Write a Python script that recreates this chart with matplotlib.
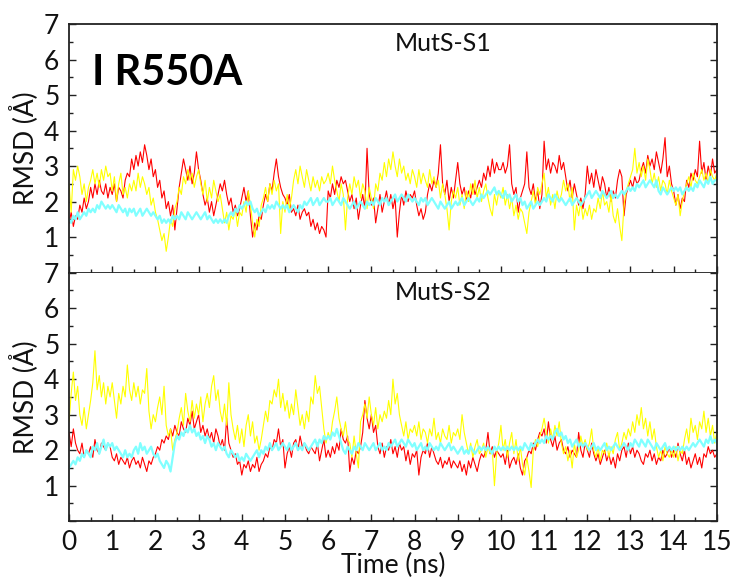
import numpy as np
import matplotlib
matplotlib.use("Agg")
import matplotlib.pyplot as plt
from matplotlib.ticker import MultipleLocator, FixedLocator

plt.rcParams['font.family'] = ['Lato', 'DejaVu Sans']

# time axis, one sample every 0.05 ns
time_ns = np.linspace(0, 15, 301)

# MutS-S1 (top panel)
s1_red = [
    1.4, 1.7, 1.3, 1.6, 1.5, 1.9, 1.7, 2.1, 1.8, 2.0, 2.4, 2.1, 2.5, 2.2, 2.6, 2.3, 2.2, 2.5, 2.1, 2.4,
    2.2, 2.5, 2.0, 2.4, 2.3, 2.1, 2.6, 2.8, 2.7, 3.2, 2.9, 3.3, 3.0, 3.4, 3.1, 3.6, 3.3, 2.9, 3.2, 2.7,
    2.9, 2.4, 2.6, 2.1, 2.3, 1.8, 2.0, 1.6, 1.9, 1.2, 1.8, 2.4, 2.8, 3.2, 2.9, 2.6, 3.0, 2.5, 2.8, 3.4,
    2.9, 2.6, 2.2, 1.9, 2.1, 1.7, 2.0, 1.6, 1.9, 2.2, 2.5, 2.3, 2.6, 2.2, 1.9, 2.1, 1.7, 1.9, 1.6, 1.8,
    2.1, 2.4, 2.0, 2.3, 1.6, 1.0, 1.4, 1.2, 1.6, 1.5, 1.9, 2.2, 2.0, 2.5, 2.3, 2.8, 3.2, 2.7, 2.4, 2.2,
    2.1, 1.9, 2.2, 1.7, 1.8, 1.6, 1.9, 1.5, 1.7, 1.8, 1.6, 1.7, 1.3, 1.5, 1.2, 1.4, 1.1, 1.3, 1.2, 1.0,
    2.3, 2.1, 2.5, 2.2, 2.6, 2.4, 2.7, 2.5, 2.6, 2.3, 2.0, 2.2, 1.8, 2.1, 1.5, 1.9, 2.2, 1.8, 3.5, 2.2,
    1.9, 2.1, 1.4, 1.8, 2.2, 1.7, 2.0, 2.3, 1.9, 2.2, 1.8, 2.1, 1.0, 1.7, 2.2, 1.9, 2.3, 2.0, 2.2, 2.1,
    2.3, 1.9, 1.6, 1.8, 1.5, 1.7, 2.2, 2.5, 2.3, 2.6, 2.4, 2.8, 3.6, 2.5, 2.2, 2.6, 2.0, 2.4, 2.1, 2.6,
    3.1, 2.5, 2.2, 2.4, 2.0, 2.3, 2.1, 2.5, 2.2, 2.4, 2.6, 2.4, 2.8, 2.6, 3.0, 2.7, 3.2, 2.8, 3.1, 2.9,
    2.9, 3.1, 2.8, 3.0, 3.6, 2.5, 2.2, 2.4, 1.7, 2.1, 2.3, 2.5, 3.4, 2.4, 2.2, 2.5, 2.0, 2.3, 1.8, 2.2,
    3.7, 2.9, 3.2, 2.8, 3.1, 3.0, 2.8, 3.3, 2.9, 3.1, 2.7, 2.3, 2.6, 2.1, 2.5, 2.2, 1.9, 2.1, 1.8, 2.2,
    3.0, 2.5, 2.8, 2.4, 2.9, 2.6, 2.3, 2.7, 2.5, 2.1, 2.4, 2.0, 2.3, 2.1, 2.6, 2.9, 2.7, 1.6, 2.2, 2.4,
    2.6, 2.4, 2.7, 2.5, 2.6, 2.9, 3.1, 2.8, 3.3, 3.0, 3.2, 2.9, 3.4, 3.1, 2.8, 3.2, 3.8, 2.7, 3.0, 2.5,
    2.3, 1.9, 2.2, 1.8, 2.1, 2.0, 2.6, 2.4, 2.8, 2.6, 2.9, 2.7, 3.7, 2.8, 3.1, 2.6, 3.0, 2.7, 3.2, 2.8,
    2.9]
s1_yellow = [
    2.5, 1.7, 2.9, 2.6, 3.0, 2.7, 2.2, 2.5, 2.0, 2.4, 2.6, 2.9, 2.5, 2.8, 2.4, 2.9, 2.6, 3.0, 2.7, 2.8,
    2.3, 2.7, 2.0, 2.5, 2.8, 2.2, 2.4, 2.1, 2.5, 2.3, 2.6, 2.3, 2.8, 2.4, 2.7, 2.5, 2.2, 2.4, 1.9, 2.1,
    1.7, 1.5, 1.2, 0.9, 1.1, 0.6, 1.0, 1.5, 1.3, 1.8, 2.0, 2.4, 2.2, 2.7, 2.5, 2.9, 2.6, 2.8, 2.4, 2.7,
    2.9, 2.5, 2.2, 2.6, 2.0, 2.4, 2.1, 2.6, 2.3, 2.0, 2.2, 1.8, 1.4, 1.7, 1.2, 1.6, 1.5, 1.8, 1.3, 1.7,
    1.6, 2.0, 1.7, 2.3, 1.9, 1.4, 1.0, 1.5, 1.3, 1.9, 2.1, 2.4, 2.0, 2.5, 2.2, 2.6, 2.3, 2.5, 1.1, 2.0,
    1.7, 2.2, 1.8, 2.1, 2.6, 2.9, 2.5, 3.0, 2.7, 2.4, 2.9, 2.6, 2.3, 2.7, 2.4, 2.6, 2.3, 2.7, 2.5, 2.6,
    2.8, 2.5, 3.0, 2.6, 2.3, 2.0, 2.5, 2.2, 1.2, 2.1, 2.5, 2.2, 2.7, 2.4, 2.6, 2.1, 2.5, 2.3, 1.8, 2.4,
    2.1, 1.8, 2.5, 2.3, 2.8, 2.6, 3.1, 2.7, 3.2, 2.9, 3.4, 3.0, 2.7, 3.2, 2.8, 3.0, 2.6, 2.8, 2.5, 2.9,
    2.7, 2.4, 2.9, 2.5, 2.8, 2.6, 2.4, 2.9, 2.5, 2.7, 2.4, 2.6, 2.1, 2.5, 2.2, 1.8, 1.2, 2.0, 2.3, 2.1,
    2.4, 1.9, 2.2, 1.8, 2.3, 2.0, 2.5, 2.2, 2.6, 2.1, 2.4, 2.0, 2.3, 2.5, 2.1, 1.8, 1.6, 2.2, 1.9, 2.3,
    2.1, 2.4, 1.9, 2.2, 1.8, 2.1, 1.6, 1.9, 1.5, 1.8, 1.7, 1.4, 1.1, 1.7, 2.0, 2.3, 1.9, 2.4, 2.2, 2.5,
    2.8, 2.1, 2.4, 1.9, 2.2, 1.8, 2.3, 2.0, 2.2, 2.6, 2.3, 2.5, 2.0, 2.4, 1.2, 1.9, 1.6, 2.0, 1.5, 1.8,
    1.6, 1.9, 1.5, 1.8, 1.7, 2.1, 1.8, 2.3, 1.9, 2.0, 1.7, 2.2, 1.6, 1.4, 1.8, 1.3, 0.9, 1.9, 2.3, 2.5,
    2.7, 2.9, 3.5, 2.8, 3.1, 2.7, 3.0, 2.6, 3.2, 2.9, 2.5, 2.8, 2.4, 2.7, 2.3, 2.6, 2.5, 2.2, 2.6, 2.3,
    2.1, 1.9, 2.2, 1.6, 2.0, 2.3, 2.5, 2.7, 2.4, 2.8, 2.6, 2.5, 2.7, 2.9, 2.6, 2.8, 2.5, 2.9, 2.7, 2.6,
    2.8]
s1_cyan = [
    1.5, 1.4, 1.6, 1.5, 1.7, 1.5, 1.6, 1.7, 1.6, 1.8, 1.7, 1.8, 1.7, 1.9, 1.8, 2.0, 1.9, 1.8, 1.9, 1.8,
    1.9, 1.8, 1.7, 1.9, 1.8, 1.7, 1.8, 1.6, 1.8, 1.7, 1.8, 1.6, 1.7, 1.8, 1.6, 1.7, 1.8, 1.7, 1.6, 1.7,
    1.6, 1.5, 1.6, 1.4, 1.5, 1.4, 1.5, 1.4, 1.6, 1.5, 1.6, 1.5, 1.7, 1.6, 1.5, 1.7, 1.6, 1.5, 1.6, 1.7,
    1.6, 1.5, 1.6, 1.7, 1.5, 1.6, 1.5, 1.4, 1.5, 1.4, 1.5, 1.4, 1.5, 1.4, 1.6, 1.7, 1.6, 1.8, 1.7, 1.9,
    1.8, 1.9, 2.0, 1.9, 2.0, 1.8, 1.7, 1.8, 1.6, 1.7, 1.8, 1.7, 1.9, 1.8, 1.9, 1.8, 2.0, 1.9, 1.8, 1.9,
    1.8, 1.9, 1.7, 1.8, 1.9, 1.8, 1.7, 1.9, 1.8, 2.0, 1.9, 2.0, 2.1, 1.9, 2.0, 2.1, 1.9, 2.0, 2.1, 2.0,
    2.0, 2.1, 1.9, 2.0, 2.1, 2.0, 1.9, 2.1, 2.0, 1.9, 1.8, 1.9, 2.0, 1.8, 1.9, 2.0, 1.9, 1.8, 2.0, 1.9,
    2.0, 1.9, 2.1, 2.0, 1.9, 2.1, 2.0, 2.1, 1.9, 2.0, 2.1, 2.2, 2.0, 2.1, 2.2, 2.1, 2.0, 2.2, 2.1, 2.0,
    2.1, 2.0, 1.9, 2.1, 2.0, 2.1, 1.9, 2.0, 2.1, 2.0, 1.9, 1.8, 2.0, 1.9, 1.8, 1.9, 2.0, 1.8, 1.9, 2.0,
    1.9, 2.0, 2.1, 1.9, 2.0, 2.1, 2.0, 1.9, 2.0, 2.1, 2.0, 2.2, 2.1, 2.2, 2.3, 2.2, 2.3, 2.4, 2.2, 2.3,
    2.2, 2.1, 2.3, 2.1, 2.2, 2.0, 2.1, 2.2, 2.0, 2.1, 1.9, 2.0, 1.8, 1.9, 2.0, 1.8, 1.9, 2.0, 1.9, 2.0,
    2.1, 2.0, 2.2, 2.1, 2.0, 2.2, 2.1, 2.0, 2.1, 2.0, 1.9, 2.0, 2.1, 1.9, 2.0, 2.1, 2.0, 1.9, 2.0, 2.1,
    2.2, 2.3, 2.1, 2.2, 2.3, 2.2, 2.1, 2.3, 2.2, 2.1, 2.2, 2.3, 2.1, 2.2, 2.1, 2.2, 2.3, 2.2, 2.3, 2.4,
    2.3, 2.4, 2.3, 2.5, 2.4, 2.5, 2.6, 2.4, 2.5, 2.6, 2.5, 2.4, 2.6, 2.3, 2.2, 2.4, 2.3, 2.2, 2.3, 2.4,
    2.3, 2.4, 2.3, 2.4, 2.2, 2.3, 2.4, 2.3, 2.4, 2.3, 2.5, 2.4, 2.6, 2.5, 2.4, 2.6, 2.5, 2.7, 2.5, 2.6,
    2.6]

# MutS-S2 (bottom panel)
s2_red = [
    2.5, 2.1, 2.6, 2.2, 2.0, 1.9, 2.2, 1.8, 2.0, 1.9, 2.1, 1.8, 2.3, 2.0, 1.9, 2.2, 2.1, 2.0, 2.2, 2.1,
    1.8, 1.7, 1.9, 1.6, 1.8, 1.7, 1.6, 1.8, 1.5, 1.7, 1.8, 1.6, 1.7, 1.5, 1.8, 1.6, 1.4, 1.7, 1.6, 1.8,
    1.9, 2.1, 2.0, 2.3, 2.2, 2.4, 2.3, 2.6, 2.4, 2.7, 2.5, 2.4, 2.8, 2.6, 2.5, 2.9, 2.7, 3.1, 2.6, 2.8,
    3.0, 2.5, 2.7, 2.4, 2.6, 2.3, 2.5, 2.2, 2.6, 2.4, 2.1, 2.3, 2.0, 2.9, 2.2, 2.0, 1.8, 1.9, 1.6, 1.7,
    1.3, 1.6, 1.5, 1.7, 1.4, 1.6, 1.5, 1.8, 1.4, 1.6, 1.7, 1.9, 1.8, 2.1, 2.0, 2.3, 2.2, 2.6, 2.1, 2.3,
    1.5, 1.9, 2.1, 1.8, 2.2, 2.3, 2.0, 2.4, 2.1, 2.2, 2.0, 1.9, 2.1, 2.0, 1.9, 2.2, 1.7, 2.0, 2.3, 1.8,
    2.0, 1.8, 2.1, 1.9, 2.2, 2.0, 2.6, 2.3, 2.2, 2.4, 1.4, 1.8, 1.6, 2.0, 1.9, 2.1, 2.5, 3.4, 2.9, 2.6,
    3.0, 2.5, 2.7, 2.1, 1.9, 2.2, 1.8, 2.1, 2.0, 2.3, 1.9, 2.1, 1.8, 2.2, 2.0, 2.1, 1.7, 2.0, 1.6, 1.9,
    1.8, 2.0, 1.3, 1.8, 2.0, 1.9, 2.2, 1.8, 2.1, 1.9, 1.7, 1.6, 1.8, 1.5, 1.7, 1.6, 1.8, 1.5, 1.7, 1.6,
    1.5, 1.7, 1.4, 1.6, 1.3, 1.7, 1.5, 1.8, 1.6, 1.4, 1.7, 1.9, 1.8, 2.0, 2.5, 1.9, 2.1, 1.8, 2.0, 1.9,
    1.8, 1.9, 1.6, 2.0, 1.5, 1.7, 1.8, 1.6, 1.9, 1.5, 1.3, 1.7, 1.8, 2.0, 1.9, 2.2, 2.0, 2.3, 2.5, 2.4,
    2.6, 2.2, 2.8, 2.3, 2.1, 2.4, 2.0, 2.2, 2.3, 2.0, 1.9, 2.1, 1.8, 2.0, 1.9, 1.8, 2.5, 2.0, 1.8, 2.2,
    2.0, 1.8, 2.2, 1.9, 1.7, 1.9, 1.6, 1.8, 2.0, 1.7, 1.9, 1.6, 1.8, 1.5, 1.9, 1.7, 2.0, 2.1, 1.8, 2.2,
    1.9, 2.1, 1.8, 2.0, 1.9, 1.7, 1.6, 1.9, 1.8, 2.0, 1.7, 1.9, 1.6, 1.8, 1.7, 2.0, 1.8, 1.9, 2.1, 1.8,
    2.0, 1.8, 2.2, 1.9, 1.7, 2.0, 1.6, 1.8, 1.5, 1.7, 1.9, 1.6, 1.8, 1.5, 1.9, 1.8, 2.1, 1.9, 2.0, 1.8,
    1.9]
s2_yellow = [
    2.8, 3.6, 4.2, 3.4, 3.8, 3.0, 2.7, 3.2, 2.6, 3.0, 3.4, 3.9, 4.8, 3.7, 4.1, 3.5, 3.9, 3.3, 3.8, 3.5,
    3.9, 3.4, 2.9, 3.6, 3.3, 3.8, 3.5, 4.4, 3.7, 3.4, 3.9, 3.5, 3.8, 3.3, 3.7, 3.6, 4.3, 3.1, 2.6, 3.0,
    2.8, 3.2, 3.5, 3.0, 3.8, 2.7, 2.4, 2.6, 2.0, 2.3, 2.5, 2.9, 3.2, 2.7, 3.6, 3.1, 2.8, 3.4, 2.9, 3.3,
    3.0, 3.5, 2.8, 3.3, 3.6, 3.2, 3.8, 4.1, 3.4, 3.7, 3.1, 2.8, 3.3, 2.7, 3.9, 3.0, 2.6, 2.3, 2.7, 2.2,
    2.6, 2.1, 2.7, 3.0, 2.4, 2.8, 2.2, 2.4, 2.0, 2.3, 2.7, 3.1, 2.8, 3.4, 3.3, 3.7, 3.5, 4.0, 3.2, 3.6,
    3.1, 3.4, 2.9, 3.3, 3.0, 3.7, 3.2, 2.7, 3.0, 2.6, 3.1, 2.8, 3.5, 3.3, 4.1, 3.6, 3.8, 3.2, 2.6, 2.2,
    2.5, 2.3, 2.8, 3.1, 3.5, 2.9, 2.6, 2.4, 2.8, 2.3, 2.2, 1.8, 2.4, 1.9, 1.5, 2.8, 3.0, 3.3, 2.9, 3.5,
    3.0, 2.7, 3.2, 2.6, 3.0, 2.8, 3.1, 2.9, 3.4, 3.0, 4.0, 3.3, 3.6, 3.0, 2.7, 2.4, 2.8, 2.3, 2.6, 2.5,
    2.7, 2.4, 2.8, 2.3, 2.6, 2.5, 2.2, 2.6, 2.4, 2.9, 2.3, 2.5, 2.2, 2.6, 2.4, 2.3, 2.7, 2.2, 2.5, 2.4,
    2.6, 2.3, 3.0, 2.5, 2.2, 1.9, 2.2, 1.8, 2.1, 2.3, 1.9, 2.0, 2.2, 1.8, 2.1, 1.9, 2.0, 1.0, 1.9, 2.2,
    2.7, 2.0, 2.3, 1.8, 2.2, 2.5, 1.9, 2.3, 1.7, 2.1, 1.6, 1.3, 1.8, 1.4, 0.95, 2.0, 2.3, 2.1, 2.4, 2.6,
    2.9, 2.5, 2.2, 2.6, 2.3, 2.7, 2.4, 2.8, 2.2, 1.9, 2.1, 1.7, 2.0, 1.5, 2.2, 1.8, 2.0, 2.4, 2.1, 2.3,
    2.0, 2.2, 2.6, 2.0, 1.8, 2.1, 1.7, 2.0, 1.9, 2.2, 1.8, 2.1, 1.9, 2.3, 2.5, 2.0, 2.2, 2.5, 2.3, 2.6,
    2.4, 2.8, 2.5, 3.0, 2.7, 3.2, 2.6, 2.9, 2.4, 2.8, 2.3, 2.6, 2.1, 1.8, 2.0, 1.7, 2.1, 1.9, 1.8, 2.0,
    1.8, 2.1, 1.7, 2.0, 1.9, 2.3, 2.6, 2.2, 2.9, 2.5, 2.7, 2.3, 2.8, 2.6, 3.1, 2.5, 2.9, 2.4, 2.7, 2.2,
    2.5]
s2_cyan = [
    1.5, 1.6, 1.7, 1.6, 1.8, 1.7, 1.9, 1.8, 2.0, 1.9, 1.8, 2.1, 2.0, 2.2, 1.9, 2.1, 2.3, 2.0, 2.2, 2.1,
    2.2, 2.0, 2.1, 2.0, 1.9, 1.8, 2.0, 1.8, 1.9, 1.8, 2.0, 2.1, 1.9, 2.2, 2.0, 2.1, 1.9, 2.0, 2.1, 1.9,
    1.8, 1.9, 1.7, 1.6, 1.5, 1.7, 1.6, 1.4, 1.8, 2.2, 2.4, 2.3, 2.5, 2.4, 2.6, 2.5, 2.7, 2.5, 2.6, 2.4,
    2.5, 2.3, 2.4, 2.2, 2.4, 2.3, 2.1, 2.2, 2.0, 2.2, 2.1, 2.0, 2.1, 1.9, 1.8, 2.0, 1.9, 1.8, 1.9, 1.7,
    1.8, 1.7, 1.9, 1.8, 1.7, 1.8, 1.9, 2.0, 1.8, 2.0, 1.9, 2.1, 2.0, 2.2, 2.0, 2.1, 2.2, 2.0, 2.1, 2.2,
    2.1, 2.0, 2.2, 2.0, 2.1, 2.2, 2.0, 2.1, 2.0, 2.2, 2.1, 2.0, 2.1, 2.2, 2.3, 2.1, 2.3, 2.2, 2.4, 2.3,
    2.4, 2.3, 2.5, 2.4, 2.6, 2.4, 2.2, 2.0, 1.9, 2.1, 2.0, 1.9, 2.1, 2.0, 2.2, 2.1, 2.0, 2.2, 2.1, 2.0,
    2.1, 2.2, 2.0, 2.1, 2.2, 2.0, 2.1, 2.0, 2.2, 2.1, 2.2, 2.3, 2.1, 2.2, 2.3, 2.2, 2.1, 2.3, 2.2, 2.1,
    2.2, 2.0, 2.1, 2.2, 2.0, 2.1, 2.0, 2.2, 2.1, 2.0, 2.1, 2.0, 2.2, 2.1, 2.0, 2.1, 2.2, 2.0, 2.1, 2.0,
    1.9, 2.0, 2.1, 1.9, 2.0, 1.9, 2.1, 2.0, 1.9, 2.0, 2.1, 2.0, 2.1, 2.0, 2.1, 2.0, 1.9, 2.1, 2.0, 2.1,
    2.0, 2.1, 2.0, 2.1, 2.0, 2.1, 2.0, 2.1, 2.0, 2.1, 2.0, 2.2, 2.1, 2.0, 2.2, 2.1, 2.2, 2.3, 2.2, 2.3,
    2.2, 2.4, 2.3, 2.4, 2.3, 2.5, 2.6, 2.4, 2.5, 2.3, 2.4, 2.2, 2.3, 2.1, 2.2, 2.3, 2.1, 2.2, 2.1, 2.2,
    2.1, 2.0, 2.1, 2.2, 2.0, 2.1, 2.0, 2.1, 2.2, 2.0, 2.1, 2.0, 2.1, 2.2, 2.1, 2.0, 2.1, 2.2, 2.1, 2.0,
    2.2, 2.1, 2.3, 2.2, 2.1, 2.3, 2.2, 2.1, 2.3, 2.2, 2.1, 2.0, 2.2, 2.1, 2.0, 2.1, 2.2, 2.0, 2.1, 2.0,
    2.1, 2.0, 2.1, 2.0, 2.1, 2.0, 2.1, 2.0, 2.1, 2.2, 2.1, 2.2, 2.3, 2.2, 2.1, 2.3, 2.2, 2.4, 2.2, 2.3,
    2.2]

panel_titles = ['MutS-S1', 'MutS-S2']
panel_data = [(s1_red, s1_yellow, s1_cyan), (s2_red, s2_yellow, s2_cyan)]
colors = ['#ff0000', '#ffff00', '#80ffff']
widths = [0.8, 0.8, 1.6]

fig = plt.figure(figsize=(7.36, 5.85), dpi=100)
ax_top = fig.add_axes([0.0938, 0.534, 0.8802, 0.425])
ax_bot = fig.add_axes([0.0938, 0.109, 0.8802, 0.425], sharex=ax_top)

for ax, title, series in zip([ax_top, ax_bot], panel_titles, panel_data):
    for vals, c, lw in zip(series, colors, widths):
        ax.plot(time_ns, vals, color=c, lw=lw)
    ax.set_xlim(0, 15)
    ax.set_ylim(0, 7)
    ax.xaxis.set_major_locator(MultipleLocator(1))
    ax.xaxis.set_minor_locator(MultipleLocator(0.5))
    ax.yaxis.set_major_locator(FixedLocator(range(0, 8)))
    ax.set_yticklabels([''] + [str(i) for i in range(1, 8)])
    ax.yaxis.set_minor_locator(MultipleLocator(0.5))
    ax.tick_params(which='both', direction='in', left=True, right=True,
                   top=False, bottom=True, width=1.0, colors='#222222')
    ax.tick_params(which='major', length=5, labelsize=19, pad=7, labelcolor='#111111')
    ax.tick_params(which='minor', length=3)
    for sp in ax.spines.values():
        sp.set_linewidth(1.3)
        sp.set_color('#222222')
    ax.set_ylabel('RMSD (Å)', fontsize=19, labelpad=4, color='#111111')
    ax.text(8.66, 6.44, title, fontsize=18, ha='center', va='center', color='#111111')

ax_top.tick_params(axis='x', labelbottom=False)
ax_bot.spines['top'].set_visible(False)
ax_bot.tick_params(axis='x', pad=6)
ax_bot.set_xlabel('Time (ns)', fontsize=19, labelpad=-1, color='#111111')
ax_top.text(0.53, 5.62, 'I R550A', fontsize=30, fontweight='bold', ha='left', va='center')

fig.savefig('out.png', dpi=100)
